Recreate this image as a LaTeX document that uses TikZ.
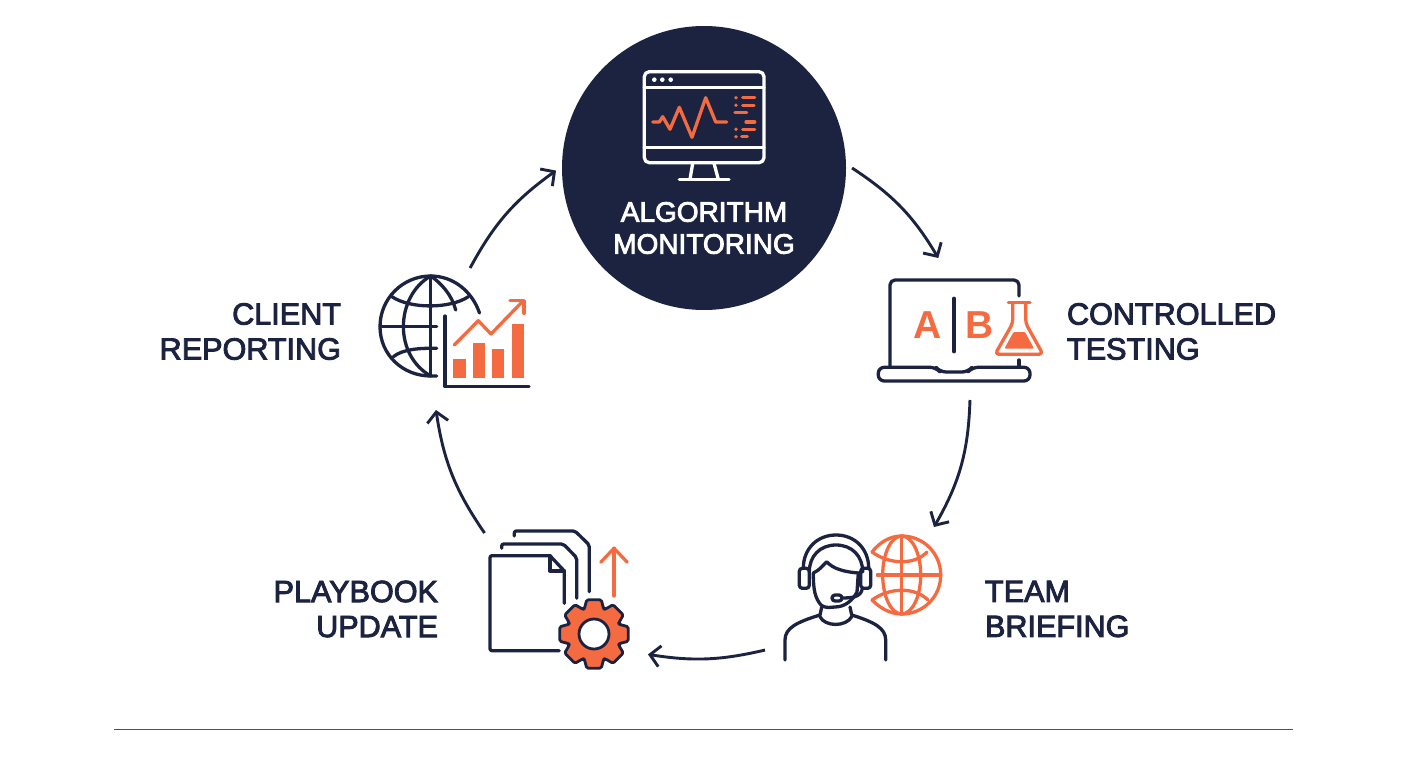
\documentclass[tikz,border=0pt]{standalone}
\usepackage{fontspec}
\newfontfamily\tagfont[FakeBold=3]{Liberation Sans}
\newfontfamily\letterfont{Liberation Sans Bold}
\usetikzlibrary{arrows.meta, positioning}
\definecolor{navy}{HTML}{1C2340}
\definecolor{coral}{HTML}{F46A41}
\definecolor{rulecol}{HTML}{4A4F78}
\tikzset{
    iconbox/.style={rectangle, inner sep=0pt, outer sep=0pt},
    tag/.style={inner sep=0pt, outer sep=0pt, text=navy, font=\tagfont\fontsize{30.6}{35}\selectfont},
    flow/.style={draw=navy, line width=2.9pt, -{Straight Barb[length=10pt, width=21pt, line width=2.9pt]}},
    ink/.style={draw=navy, line width=3.3pt, line cap=round, line join=round},
    inkw/.style={draw=white, line width=3.3pt, line cap=round, line join=round},
    inko/.style={draw=coral, line width=3.3pt, line cap=round, line join=round}
}
\begin{document}
\begin{tikzpicture}[x=1pt, y=-1pt]
    \useasboundingbox (0,0) rectangle (1408,768);

    % Draw the stations
    \node[circle, fill=navy, minimum size=284pt, inner sep=0pt, outer sep=6pt] (monitor) at (704,168) {};
    \node[iconbox, minimum width=164pt, minimum height=142pt] (testing)   at (960,329) {};
    \node[iconbox, minimum width=195pt, minimum height=138pt] (team)      at (862.5,596) {};
    \node[iconbox, minimum width=166pt, minimum height=135pt] (playbook)  at (565,600.5) {};
    \node[iconbox, minimum width=150pt, minimum height=142pt] (reporting) at (455,339) {};

    % Draw the labels
    \node[tag, text=white, align=center, font=\tagfont\fontsize{28}{32}\selectfont] (monitortag) at (704,228) {ALGORITHM\\MONITORING};
    \node[tag, align=left,  right=25pt of testing, yshift=-2.5pt]  (testingtag)   {CONTROLLED\\TESTING};
    \node[tag, align=left,  right=25pt of team, yshift=-13pt]      (teamtag)      {TEAM\\BRIEFING};
    \node[tag, align=right, left=44pt of playbook, yshift=-8.5pt]  (playbooktag)  {PLAYBOOK\\UPDATE};
    \node[tag, align=right, left=39pt of reporting, yshift=7.5pt]  (reportingtag) {CLIENT\\REPORTING};

    % Connect the stations with arrows
    \draw[flow] (monitor.0)      to[bend left=13] (testing.107.2);
    \draw[flow] (testing.-82.8)  to[bend left=14] (team.44.8);
    \draw[flow] (team.209.9)     to[bend left=11] (playbook.-33.3);
    \draw[flow] (playbook.140.9) to[bend left=13] (reporting.-105);
    \draw[flow] (reporting.78.8) to[bend left=13] (monitor.181.5);

    % Monitor icon
    \draw[inkw, rounded corners=5pt] (644.3,71.7) rectangle (764,162.7);
    \draw[inkw] (644.3,87.7) -- (764,87.7);
    \draw[inkw] (644.3,147.3) -- (764,147.3);
    \foreach \dotx in {654.3,662.3,670.7}
        \fill[white] (\dotx,79.7) circle (2.3);
    \draw[inkw] (692.7,163.3) -- (690,179.3);
    \draw[inkw] (714,163.3) -- (718.3,179.3);
    \draw[inkw] (679.3,179.7) -- (729,179.7);
    \draw[inko] (652.7,122) -- (659.3,122) -- (662.7,116.7) -- (670,129.3) -- (679.3,107.3)
        -- (692,137.3) -- (705.7,97.7) -- (715.7,122) -- (726.7,122);
    \foreach \doty in {97.7,105.3,129.3,136.7}
        \fill[coral] (736,\doty) circle (1.9);
    \foreach \xa/\xb/\ya in {742.7/754.7/97.7, 742.7/754/105.3, 735/746.7/112.7, 746/754.7/122, 742.7/754.7/129.3, 741.7/747.3/136.7}
        \draw[inko] (\xa,\ya) -- (\xb,\ya);

    % Laptop icon
    \draw[ink, rounded corners=5pt] (890,366.7) -- (890,280) -- (1019,280) -- (1019,296);
    \draw[ink] (1019,360) -- (1019,366.7);
    \draw[ink, rounded corners=6pt] (878.3,367.3) -- (936,367.3) -- (940,372) -- (968,372)
        -- (972,367.3) -- (1030,367.3) -- (1030,381) -- (878.3,381) -- cycle;
    \draw[ink] (954,298.3) -- (954,351.7);
    \node[inner sep=0pt, text=coral, font=\letterfont\fontsize{39}{39}\selectfont] (letterA) at (927.3,325) {A};
    \node[inner sep=0pt, text=coral, font=\letterfont\fontsize{39}{39}\selectfont] (letterB) at (980,325) {B};
    \draw[inko] (1008.3,302.7) -- (1030,302.7);
    \draw[inko, rounded corners=4pt] (1012.7,302.7) -- (1012.7,323.3) -- (995,354.3) -- (1043,354.3) -- (1025.7,323.3) -- (1025.7,302.7);
    \fill[coral, rounded corners=1pt] (1013.5,332) -- (1025,332) -- (1034,348.5) -- (1004.5,348.5) -- cycle;

    % Headset person icon
    \draw[inko] (877.3,575) -- (940.7,575);
    \draw[inko] (901.7,536) -- (901.7,614);
    \draw[inko] (901.7,575) ellipse (19 and 39);
    \draw[inko] (872,552) .. controls (890,565) and (915,565) .. (927,552);
    \draw[inko] (872,600) .. controls (890,587) and (915,587) .. (928,600);
    \draw[inko] (872,552) .. controls (880,542) and (890,536) .. (901.7,536)
        .. controls (923,536) and (940.7,553) .. (940.7,575)
        .. controls (940.7,597) and (923,614) .. (901.7,614)
        .. controls (890,614) and (880,608) .. (872,600);
    \fill[white] (860,560) rectangle (876,592);
    \draw[ink] (803.3,568.3) .. controls (803.3,549) and (817,535) .. (836,535)
        .. controls (855,535) and (868.7,549) .. (868.7,568.3);
    \draw[ink] (809.3,572) .. controls (809.3,556) and (820,545) .. (836,545)
        .. controls (852,545) and (862.7,556) .. (862.7,572);
    \draw[ink, rounded corners=3pt] (799.3,568.3) rectangle (809.3,588.3);
    \draw[ink, rounded corners=3pt] (860.7,568.3) rectangle (870.7,588.3);
    \draw[ink] (813.3,573) .. controls (813.3,590) and (815,598) .. (821,605)
        .. controls (827,609) and (830,607) .. (835,607)
        .. controls (845,607) and (853,600) .. (857,592) -- (858.3,573);
    \draw[ink] (813.3,573) .. controls (820,570) and (823,565) .. (826.7,561.7)
        .. controls (833,569) and (845,572) .. (858.3,573);
    \draw[ink] (862,590) .. controls (860,597) and (852,598) .. (842,598);
    \draw[ink, rounded corners=3pt] (832,595) rectangle (842,601);
    \draw[ink] (821.7,607) -- (820,615);
    \draw[ink] (850,607) -- (851.7,615);
    \draw[ink] (820,616.7) .. controls (825,627) and (846,627) .. (851.7,616.7);
    \draw[ink] (785,660) -- (785,640) .. controls (785,628) and (797,622) .. (820,615);
    \draw[ink] (885.7,660) -- (885.7,640) .. controls (885.7,628) and (874,622) .. (851.7,615);

    % Document stack icon
    \draw[ink, rounded corners=2pt] (559.3,650.7) -- (490,650.7) -- (490,555.7) -- (550,555.7);
    \draw[ink] (550,555.7) -- (564.3,571) -- (564.3,603.3);
    \draw[ink] (550,555.7) -- (550,571) -- (564.3,571);
    \draw[ink, rounded corners=2pt] (501.7,548.3) -- (501.7,544) -- (563.3,544) -- (576.7,557.7) -- (576.7,598.3);
    \draw[ink, rounded corners=2pt] (514.3,536) -- (514.3,531) -- (575,531) -- (589.3,545) -- (589.3,591.7);
    \draw[inko] (614,596) -- (614,548.3);
    \draw[inko] (600.7,562.3) -- (614,548.3) -- (627.3,562.3);
    \begin{scope}[shift={(594,634)}]
        \draw[draw=navy, fill=coral, line width=2.8pt, line join=round, rounded corners=1.5pt]
            (-21:27) \foreach \gearang in {0,45,...,315} {
                -- ({\gearang-21}:27) -- ({\gearang-12}:35) -- ({\gearang+12}:35) -- ({\gearang+21}:27)
            } -- cycle;
        \draw[draw=navy, fill=white, line width=2.8pt] (0,0) circle (15);
    \end{scope}

    % Globe and chart icon
    \draw[ink] (479.5,313) .. controls (472,291) and (453,276) .. (430.7,276)
        .. controls (402.7,276) and (380,298.7) .. (380,326.7)
        .. controls (380,354.7) and (402.7,376) .. (430.7,376) -- (436.7,376);
    \draw[ink] (430.7,276) -- (430.7,376);
    \draw[ink] (430.7,276) .. controls (413,286) and (403.4,306) .. (403.4,326.7)
        .. controls (403.4,347) and (413,366) .. (430.7,376);
    \draw[ink] (430.7,276) .. controls (441,283) and (452,295) .. (455.7,310);
    \draw[ink] (392,296.7) .. controls (410,309) and (450,309) .. (468.3,296.7);
    \draw[ink] (393.3,356.7) .. controls (403,349) and (420,348) .. (436.7,348.3);
    \draw[ink] (381.7,326.7) -- (436.7,326.7);
    \draw[ink] (445,316) -- (445,386.7) -- (529,386.7);
    \foreach \xa/\xb/\ya in {453.3/465.7/359, 472.7/485/342.7, 492.3/504.3/349, 511.7/523.7/324.3}
        \fill[coral] (\xa,\ya) rectangle (\xb,377.7);
    \draw[inko] (454.3,345) -- (478.3,320.7) -- (491,334) -- (522.3,301.7);
    \draw[inko] (510,300.7) -- (524,300.7) -- (524,313.3);

    % Bottom rule
    \coordinate (ruleleft) at (114,729);
    \coordinate (ruleright) at (1293,729);
    \draw[rulecol, line width=1pt] (ruleleft) -- (ruleright);
\end{tikzpicture}
\end{document}
